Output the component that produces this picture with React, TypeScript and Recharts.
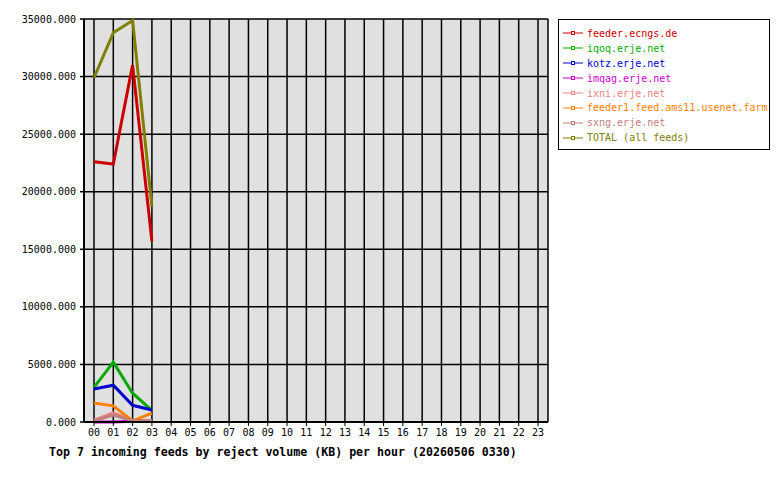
import React from "react";
import {
  LineChart,
  Line,
  XAxis,
  YAxis,
  CartesianGrid,
} from "recharts";

const hours = [
  "00", "01", "02", "03", "04", "05", "06", "07", "08", "09", "10", "11",
  "12", "13", "14", "15", "16", "17", "18", "19", "20", "21", "22", "23",
];

// only the first four hours have data
const ecngs = [22600, 22400, 31000, 15700];
const iqoq = [3000, 5200, 2500, 1000];
const kotz = [2870, 3200, 1450, 1040];
const imqag = [0, 0, 60, 60];
const ixni = [170, 800, 150, 100];
const feeder1 = [1650, 1400, 100, 780];
const sxng = [100, 600, 100, 100];
const total = [29900, 33800, 34870, 18700];

const yTicks = [0, 5000, 10000, 15000, 20000, 25000, 30000, 35000];

const series = [
  { key: "ecngs", name: "feeder.ecngs.de", color: "#cc0000", values: ecngs },
  { key: "iqoq", name: "iqoq.erje.net", color: "#00aa00", values: iqoq },
  { key: "kotz", name: "kotz.erje.net", color: "#0000cc", values: kotz },
  { key: "imqag", name: "imqag.erje.net", color: "#cc00cc", values: imqag },
  { key: "ixni", name: "ixni.erje.net", color: "#f08080", values: ixni },
  { key: "feeder1", name: "feeder1.feed.ams11.usenet.farm", color: "#ff8000", values: feeder1 },
  { key: "sxng", name: "sxng.erje.net", color: "#c08080", values: sxng },
  { key: "total", name: "TOTAL (all feeds)", color: "#808000", values: total },
];

const data = hours.map((h, i) => {
  const row: Record<string, any> = { hour: h };
  series.forEach((s) => {
    if (i < s.values.length) row[s.key] = s.values[i];
  });
  return row;
});

const font = "'DejaVu Sans Mono', monospace";

function FeedLegend() {
  return (
    <div
      style={{
        position: "absolute",
        left: 558,
        top: 19,
        border: "1px solid #000",
        background: "#fff",
        width: 212,
        height: 131,
        boxSizing: "border-box",
        padding: "6px 0 0 4px",
        fontFamily: font,
        fontSize: 10,
      }}
    >
      {series.map((s) => (
        <div key={s.key} style={{ display: "flex", alignItems: "center", height: 14.9 }}>
          <svg width={22} height={10} style={{ marginRight: 2 }}>
            <line x1={0} y1={5} x2={20} y2={5} stroke={s.color} strokeWidth={1} />
            <rect x={8.5} y={3.5} width={3} height={3} fill="#fff" stroke={s.color} strokeWidth={1} />
          </svg>
          <span style={{ color: s.color, whiteSpace: "nowrap" }}>{s.name}</span>
        </div>
      ))}
    </div>
  );
}

export default function App() {
  return (
    <div style={{ position: "absolute", left: 0, top: 0, width: 780, height: 480, background: "#fff" }}>
      <LineChart
        width={780}
        height={480}
        data={data}
        margin={{ top: 19, right: 232, left: 8, bottom: 38 }}
      >
        <CartesianGrid stroke="#000" strokeWidth={1.5} fill="#e0e0e0" fillOpacity={1} />
        <XAxis
          dataKey="hour"
          interval={0}
          padding={{ left: 10, right: 10 }}
          height={20}
          axisLine={{ stroke: "#000", strokeWidth: 2 }}
          tickLine={{ stroke: "#000" }}
          tickSize={4}
          tickMargin={3}
          tick={{ fill: "#000", fontSize: 10, fontFamily: font }}
        />
        <YAxis
          width={76}
          domain={[0, 35000]}
          ticks={yTicks}
          interval={0}
          tickFormatter={(v: number) => v.toFixed(3)}
          axisLine={{ stroke: "#000", strokeWidth: 2 }}
          tickLine={{ stroke: "#000", strokeWidth: 1.5 }}
          tickSize={4}
          tickMargin={4}
          tick={{ fill: "#000", fontSize: 10, fontFamily: font }}
        />
        <YAxis
          yAxisId="edge"
          orientation="right"
          width={0}
          tick={false}
          tickLine={false}
          axisLine={{ stroke: "#000", strokeWidth: 1.5 }}
        />
        {series.map((s) => (
          <Line
            key={s.key}
            dataKey={s.key}
            name={s.name}
            stroke={s.color}
            strokeWidth={3}
            dot={false}
            type="linear"
            isAnimationActive={false}
          />
        ))}
      </LineChart>
      <FeedLegend />
      <div
        style={{
          position: "absolute",
          left: 49,
          top: 445,
          fontFamily: font,
          fontSize: 11.6,
          fontWeight: "bold",
          color: "#000",
          whiteSpace: "nowrap",
        }}
      >
        Top 7 incoming feeds by reject volume (KB) per hour (20260506 0330)
      </div>
    </div>
  );
}
